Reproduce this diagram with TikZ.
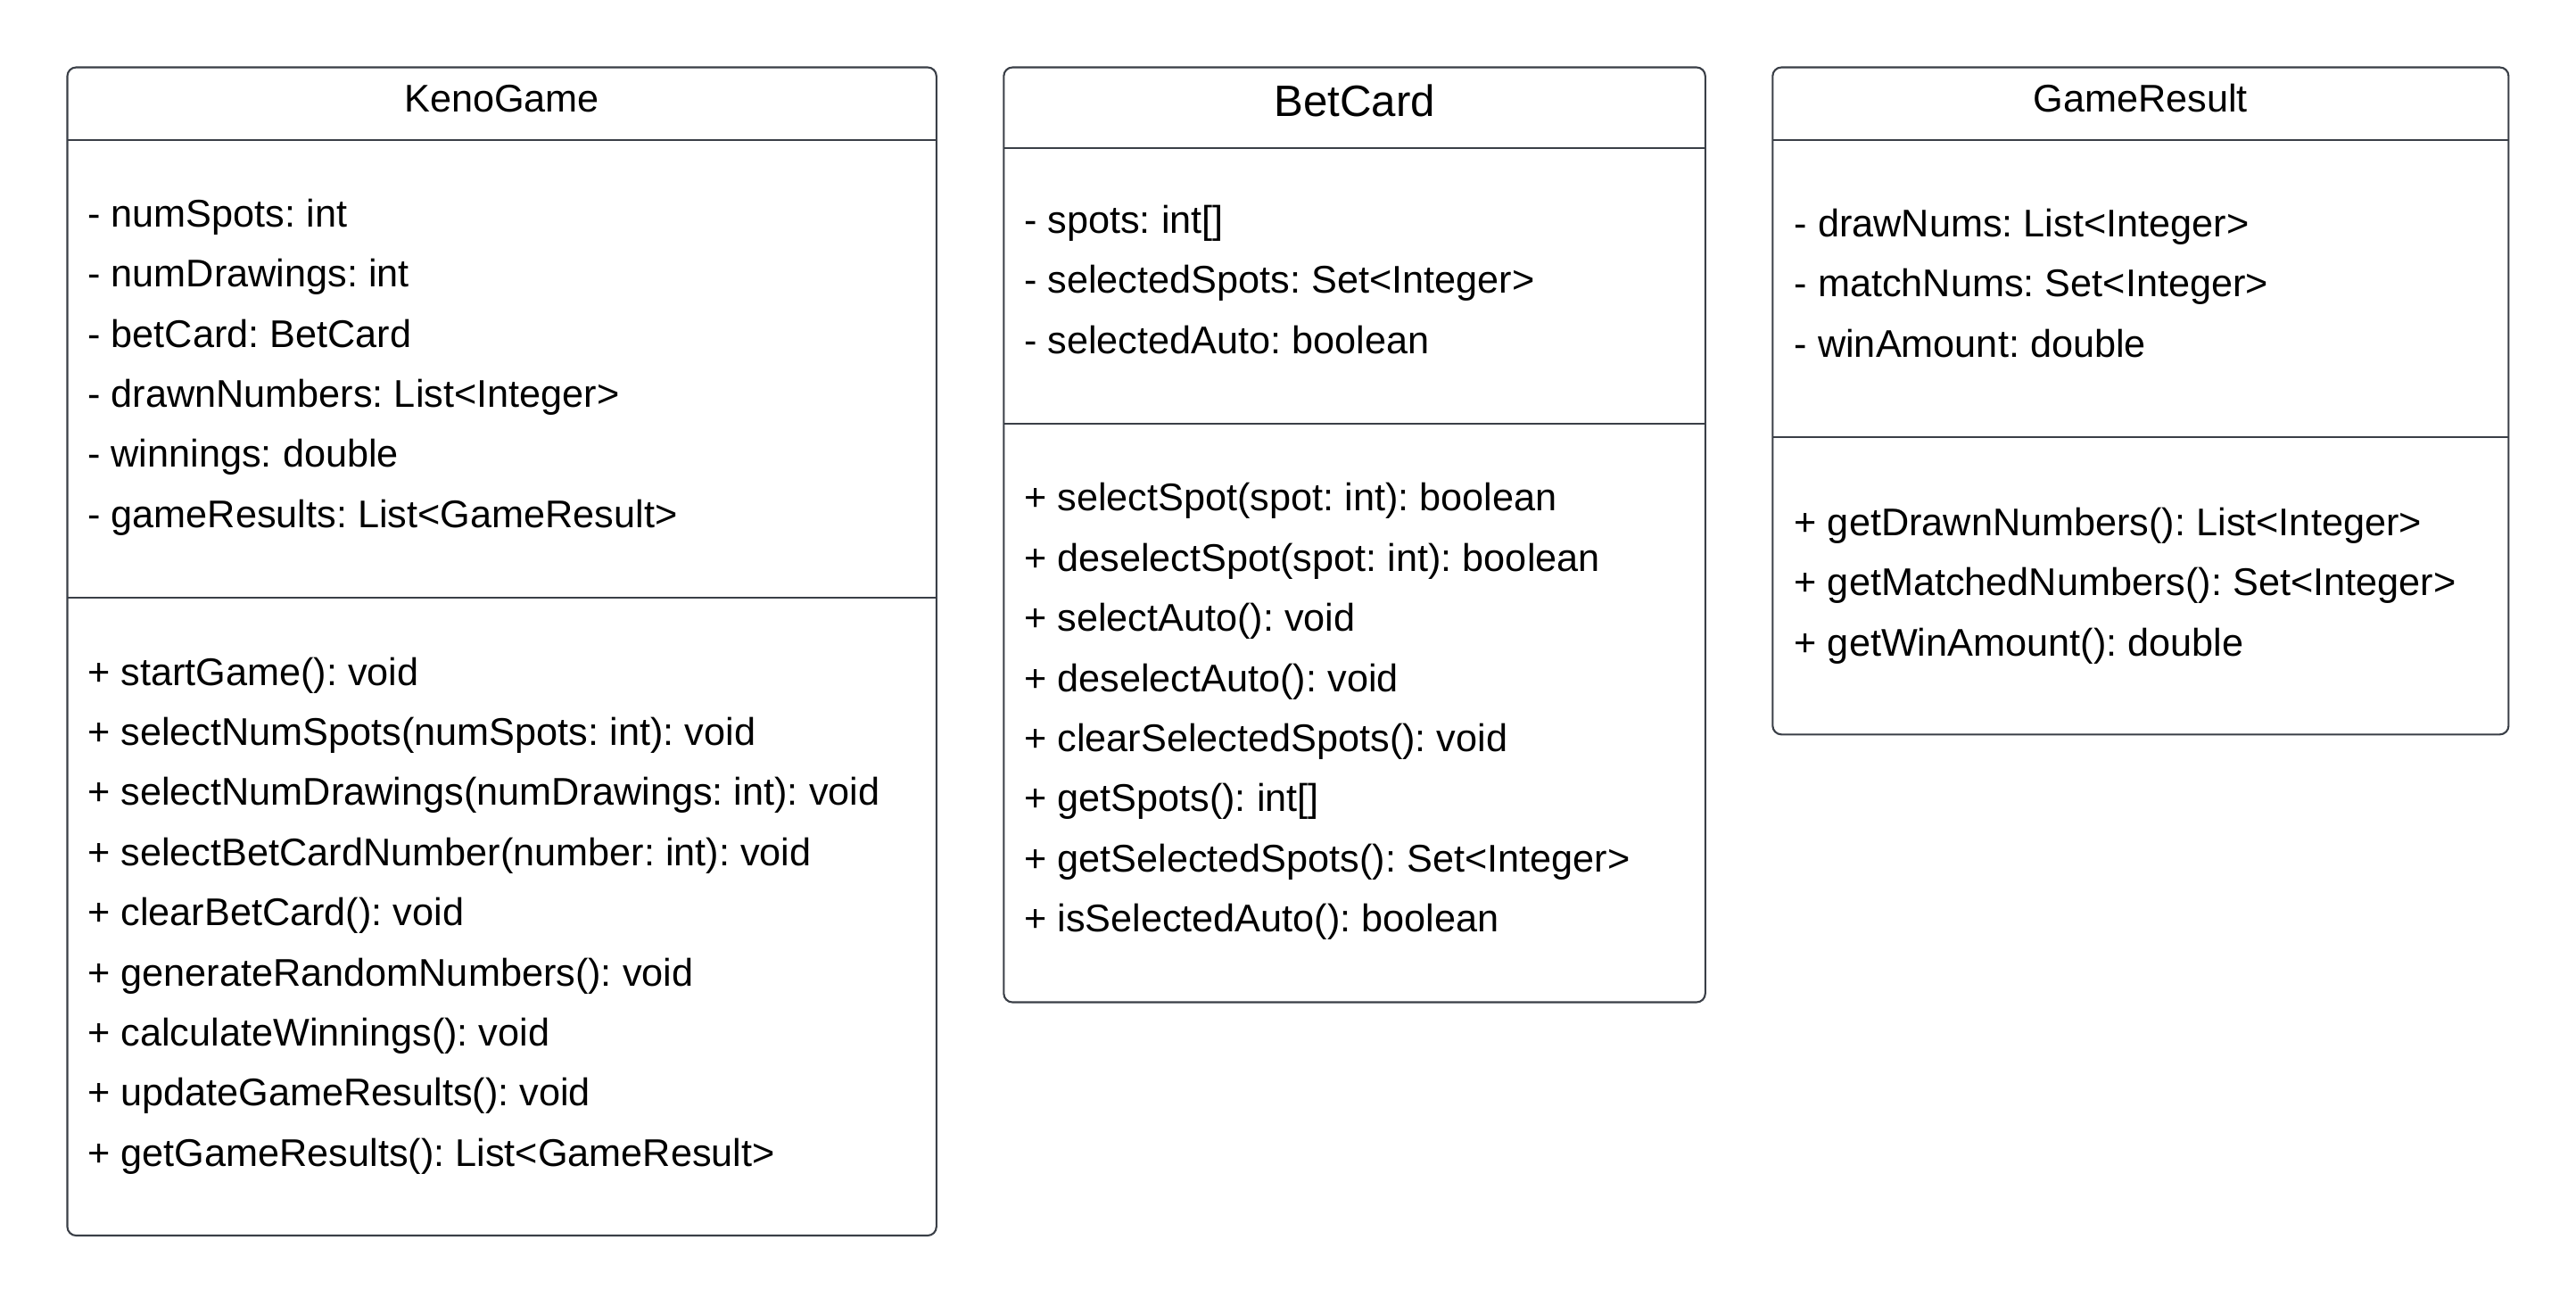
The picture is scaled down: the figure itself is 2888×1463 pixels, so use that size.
\documentclass[tikz,border=0pt]{standalone}
\usepackage{fontspec}
\setmainfont{Liberation Sans}
\frenchspacing
\definecolor{umlline}{RGB}{58,63,71}
\tikzset{
  classbox/.style={draw=umlline,line width=0.6pt,rounded corners=2.8pt},
  divider/.style={draw=umlline,line width=0.6pt},
  classname/.style={inner sep=0pt,font=\fontsize{12.3}{14}\selectfont},
  member/.style={anchor=mid west,inner sep=0pt,font=\fontsize{12.3}{14}\selectfont}
}
\begin{document}
\begin{tikzpicture}[x=0.01cm,y=-0.01cm]
  \useasboundingbox (0,0) rectangle (2888,1463);
  % --- KenoGame ---
  \draw[classbox] (75.5,75.5) rectangle (1049.8,1385);
  \draw[divider] (75.5,156.6) -- (1049.8,156.6);
  \draw[divider] (75.5,670.4) -- (1049.8,670.4);
  \node[classname] (kgname) at (562.6,110.5) {KenoGame};
  \foreach \t [count=\i] in {{- numSpots: int},{- numDrawings: int},{- betCard: BetCard},
      {- drawnNumbers: List<Integer>},{- winnings: double},{- gameResults: List<GameResult>}}
    \node[member] (kga\i) at (97.6,{245+(\i-1)*67.4}) {\t};
  \foreach \t [count=\i] in {{+ startGame(): void},{+ selectNumSpots(numSpots: int): void},
      {+ selectNumDrawings(numDrawings: int): void},{+ selectBetCardNumber(number: int): void},
      {+ clearBetCard(): void},{+ generateRandomNumbers(): void},{+ calculateWinnings(): void},
      {+ updateGameResults(): void},{+ getGameResults(): List<GameResult>}}
    \node[member] (kgm\i) at (97.6,{758.8+(\i-1)*67.4}) {\t};
  % --- BetCard ---
  \draw[classbox] (1125.3,75.5) rectangle (1911.8,1123.5);
  \draw[divider] (1125.3,165.8) -- (1911.8,165.8);
  \draw[divider] (1125.3,475.2) -- (1911.8,475.2);
  \node[classname,font=\fontsize{14}{16}\selectfont] (bcname) at (1518.5,113) {BetCard};
  \foreach \t [count=\i] in {{- spots: int[]},{- selectedSpots: Set<Integer>},{- selectedAuto: boolean}}
    \node[member] (bca\i) at (1147.5,{252.3+(\i-1)*67.4}) {\t};
  \foreach \t [count=\i] in {{+ selectSpot(spot: int): boolean},{+ deselectSpot(spot: int): boolean},
      {+ selectAuto(): void},{+ deselectAuto(): void},{+ clearSelectedSpots(): void},
      {+ getSpots(): int[]},{+ getSelectedSpots(): Set<Integer>},{+ isSelectedAuto(): boolean}}
    \node[member] (bcm\i) at (1147.5,{563.5+(\i-1)*67.4}) {\t};
  % --- GameResult ---
  \draw[classbox] (1987.3,75.5) rectangle (2812.4,823.3);
  \draw[divider] (1987.3,156.6) -- (2812.4,156.6);
  \draw[divider] (1987.3,490) -- (2812.4,490);
  \node[classname] (grname) at (2399.8,110.5) {GameResult};
  \foreach \t [count=\i] in {{- drawNums: List<Integer>},{- matchNums: Set<Integer>},{- winAmount: double}}
    \node[member] (gra\i) at (2011,{256+(\i-1)*67.4}) {\t};
  \foreach \t [count=\i] in {{+ getDrawnNumbers(): List<Integer>},{+ getMatchedNumbers(): Set<Integer>},
      {+ getWinAmount(): double}}
    \node[member] (grm\i) at (2011,{591.2+(\i-1)*67.4}) {\t};
\end{tikzpicture}
\end{document}
